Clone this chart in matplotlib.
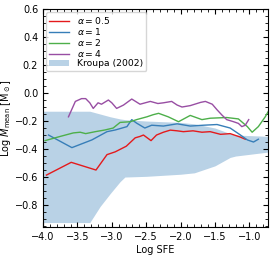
import numpy as np
import matplotlib
matplotlib.use("Agg")
import matplotlib.pyplot as plt
from matplotlib.ticker import AutoMinorLocator

# -----------------------------------
# DATA
# -----------------------------------

x_a05 = [-3.95, -3.59, -3.23, -3.07, -2.95, -2.79, -2.66, -2.59, -2.54, -2.43, -2.35,
         -2.25, -2.15, -2.05, -1.96, -1.82, -1.69, -1.57, -1.42, -1.28, -1.13, -1.06]
y_a05 = [-0.586, -0.495, -0.55, -0.44, -0.42, -0.38, -0.32, -0.31, -0.30, -0.34, -0.30,
         -0.28, -0.265, -0.27, -0.276, -0.27, -0.28, -0.276, -0.295, -0.29, -0.315, -0.33]

x_a1 = [-3.92, -3.58, -3.29, -3.07, -2.95, -2.78, -2.71, -2.64, -2.52, -2.42, -2.25,
        -2.05, -1.86, -1.67, -1.47, -1.28, -1.13, -1.03, -0.94, -0.87]
y_a1 = [-0.30, -0.39, -0.335, -0.276, -0.264, -0.24, -0.19, -0.215, -0.25, -0.23, -0.236,
        -0.22, -0.236, -0.23, -0.225, -0.25, -0.30, -0.335, -0.35, -0.33]

x_a2 = [-3.97, -3.75, -3.56, -3.46, -3.38, -3.24, -3.10, -2.98, -2.88, -2.73, -2.64,
        -2.49, -2.40, -2.32, -2.18, -2.03, -1.86, -1.69, -1.57, -1.33, -1.16, -1.03,
        -0.96, -0.87, -0.77, -0.70]
y_a2 = [-0.34, -0.31, -0.285, -0.28, -0.29, -0.276, -0.264, -0.25, -0.21, -0.205, -0.19,
        -0.17, -0.155, -0.145, -0.17, -0.205, -0.16, -0.19, -0.18, -0.175, -0.185, -0.24,
        -0.28, -0.24, -0.17, -0.11]

x_a4 = [-3.63, -3.53, -3.44, -3.38, -3.32, -3.27, -3.20, -3.15, -3.05, -3.00, -2.93,
        -2.83, -2.71, -2.59, -2.44, -2.33, -2.25, -2.13, -2.05, -1.98, -1.86, -1.71,
        -1.64, -1.54, -1.47, -1.40, -1.33, -1.23, -1.16, -1.11, -1.06, -1.01]
y_a4 = [-0.17, -0.06, -0.04, -0.04, -0.07, -0.11, -0.07, -0.08, -0.05, -0.07, -0.11,
        -0.086, -0.043, -0.08, -0.06, -0.075, -0.07, -0.06, -0.086, -0.10, -0.09, -0.067,
        -0.06, -0.08, -0.12, -0.157, -0.19, -0.205, -0.217, -0.24, -0.23, -0.19]

# Kroupa (2002) band
x_kroupa = [-4.0, -3.32, -3.17, -3.02, -2.88, -2.81, -2.5, -2.0, -1.8, -1.5, -1.28, -1.2, -0.70]
y_kroupa_hi = [-0.13, -0.13, -0.15, -0.17, -0.185, -0.19, -0.20, -0.21, -0.22, -0.25, -0.29, -0.30, -0.31]
y_kroupa_lo = [-0.925, -0.925, -0.81, -0.716, -0.633, -0.60, -0.595, -0.58, -0.57, -0.52, -0.46, -0.45, -0.42]

labels = [r"$\alpha = 0.5$", r"$\alpha = 1$", r"$\alpha = 2$", r"$\alpha = 4$"]
colors = ["#e41a1c", "#377eb8", "#4daf4a", "#984ea3"]

# -----------------------------------
# PLOT
# -----------------------------------

plt.rcParams["font.size"] = 7

fig = plt.figure(figsize=(2.74, 2.57), dpi=100)
ax = fig.add_axes([0.157, 0.115, 0.821, 0.85])

series = [(x_a05, y_a05), (x_a1, y_a1), (x_a2, y_a2), (x_a4, y_a4)]
for (xs, ys), lab, col in zip(series, labels, colors):
    ax.plot(xs, ys, color=col, lw=1.0, label=lab)

ax.fill_between(x_kroupa, y_kroupa_lo, y_kroupa_hi, color="#377eb8", alpha=0.35,
                lw=0, label="Kroupa (2002)")

ax.set_xlim(-4.0, -0.73)
ax.set_ylim(-0.96, 0.6)
ax.set_xticks([-4.0, -3.5, -3.0, -2.5, -2.0, -1.5, -1.0])
ax.set_yticks([-0.8, -0.6, -0.4, -0.2, 0.0, 0.2, 0.4, 0.6])
ax.xaxis.set_minor_locator(AutoMinorLocator())
ax.yaxis.set_minor_locator(AutoMinorLocator())
ax.tick_params(which="both", direction="in", top=True, right=True)
ax.tick_params(which="major", length=3.5)
ax.tick_params(which="minor", length=2)

ax.set_xlabel("Log SFE", labelpad=2)
ax.set_ylabel(r"Log $M_{\rm mean}$ [M$_\odot$]", labelpad=1)

ax.legend(loc="upper left", fontsize=6.7, handlelength=2.15, labelspacing=0.0,
          borderpad=0.35, handletextpad=0.85, borderaxespad=0.3)

fig.savefig("out.png", dpi=100)
